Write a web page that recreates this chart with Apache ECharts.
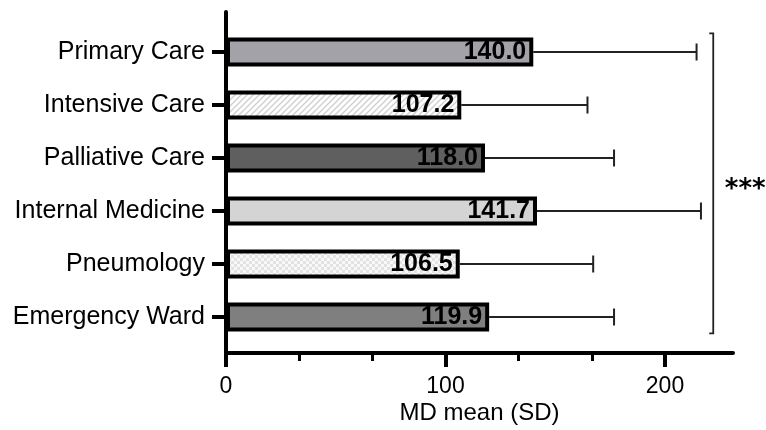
<!DOCTYPE html>
<html>
<head>
<meta charset="utf-8">
<script src="https://cdn.jsdelivr.net/npm/echarts@6/dist/echarts.min.js"></script>
<style>html,body{margin:0;padding:0;background:#fff;}#c{width:766px;height:430px;}</style>
</head>
<body>
<div id="c"></div>
<script>
const categories = ['Primary Care', 'Intensive Care', 'Palliative Care', 'Internal Medicine', 'Pneumology', 'Emergency Ward'];
const means = [140.0, 107.2, 118.0, 141.7, 106.5, 119.9];
const sds = [74.4, 57.5, 58.8, 74.7, 60.8, 56.9];
const xTickLabels = ['0', '100', '200'];
const significance = '***';

function hatchCanvas() {
  const c = document.createElement('canvas');
  c.width = 6; c.height = 6;
  const g = c.getContext('2d');
  g.fillStyle = '#ffffff'; g.fillRect(0, 0, 6, 6);
  g.strokeStyle = '#cfcfcf'; g.lineWidth = 1.4;
  g.beginPath();
  g.moveTo(-1, 7); g.lineTo(7, -1);
  g.moveTo(-4, 4); g.lineTo(4, -4);
  g.moveTo(2, 10); g.lineTo(10, 2);
  g.stroke();
  return c;
}
function checkerCanvas() {
  const c = document.createElement('canvas');
  c.width = 6; c.height = 6;
  const g = c.getContext('2d');
  g.fillStyle = '#f8f8f8'; g.fillRect(0, 0, 6, 6);
  g.fillStyle = '#e2e2e2';
  g.fillRect(0, 0, 3, 3); g.fillRect(3, 3, 3, 3);
  return c;
}
const fills = [
  '#a2a2a8',
  { image: hatchCanvas(), repeat: 'repeat' },
  '#5f5f5f',
  '#d4d4d4',
  { image: checkerCanvas(), repeat: 'repeat' },
  '#7f7f7f'
];

const FONT = "'Liberation Sans', Arial, sans-serif";
const BRACKET_X = 222;

const chart = echarts.init(document.getElementById('c'), null, { renderer: 'canvas' });
chart.setOption({
  animation: false,
  backgroundColor: '#fff',
  textStyle: { fontFamily: FONT, color: '#000' },
  grid: [
    { left: 226, right: 33, top: 25.5, height: 318 },
    { left: 226, width: 439, top: 12, height: 341 }
  ],
  xAxis: [
    {
      gridIndex: 0, type: 'value', min: 0, max: 231, position: 'bottom', offset: 9.5,
      axisLine: { show: true, lineStyle: { color: '#000', width: 4 } },
      axisTick: { show: false }, axisLabel: { show: false }, splitLine: { show: false },
      name: 'MD mean (SD)', nameLocation: 'middle', nameGap: 48,
      nameTextStyle: { fontSize: 24, color: '#000', fontFamily: FONT }
    },
    {
      gridIndex: 1, type: 'value', min: 0, max: 200, interval: 100,
      axisLine: { show: false },
      axisTick: { show: true, length: 14, lineStyle: { color: '#000', width: 4 } },
      minorTick: { show: true, splitNumber: 3, length: 8, lineStyle: { color: '#000', width: 3 } },
      splitLine: { show: false }, minorSplitLine: { show: false },
      axisLabel: {
        fontSize: 23, color: '#000', margin: 22, fontFamily: FONT,
        formatter: function (v) { const i = Math.round(v / 100); return xTickLabels[i] !== undefined ? xTickLabels[i] : ''; }
      }
    }
  ],
  yAxis: [
    {
      gridIndex: 0, type: 'category', data: categories, inverse: true,
      axisLine: { show: false },
      axisTick: { show: true, alignWithLabel: true, length: 14, lineStyle: { color: '#000', width: 4 } },
      axisLabel: { fontSize: 25, color: '#000', margin: 21, fontFamily: FONT },
      splitLine: { show: false }
    },
    {
      gridIndex: 1, type: 'value', min: 0, max: 1,
      axisLine: { show: true, lineStyle: { color: '#000', width: 4 } },
      axisTick: { show: false }, axisLabel: { show: false }, splitLine: { show: false }
    }
  ],
  series: [
    {
      type: 'custom', xAxisIndex: 0, yAxisIndex: 0, z: 1,
      data: means.map((m, i) => [m, m + sds[i], i]),
      encode: { x: [0, 1], y: 2 },
      renderItem: function (params, api) {
        const c = api.value(2);
        const p0 = api.coord([api.value(0), c]);
        const p1 = api.coord([api.value(1), c]);
        const h = 8.5;
        const st = { stroke: '#222', lineWidth: 2 };
        return {
          type: 'group', children: [
            { type: 'line', shape: { x1: p0[0], y1: p0[1], x2: p1[0], y2: p1[1] }, style: st },
            { type: 'line', shape: { x1: p1[0], y1: p1[1] - h, x2: p1[0], y2: p1[1] + h }, style: st }
          ]
        };
      }
    },
    {
      type: 'bar', xAxisIndex: 0, yAxisIndex: 0, z: 3, barWidth: 29,
      data: means.map((v, i) => ({ value: v, itemStyle: { color: fills[i] } })),
      itemStyle: { borderColor: '#000', borderWidth: 4 },
      label: {
        show: true, position: 'insideRight', distance: 7,
        formatter: p => p.value.toFixed(1),
        fontSize: 25, fontWeight: 'bold', color: '#000', fontFamily: FONT
      }
    },
    {
      type: 'custom', xAxisIndex: 0, yAxisIndex: 0, z: 4,
      data: [[BRACKET_X, 0, categories.length - 1]],
      encode: { x: 0, y: 1 },
      renderItem: function (params, api) {
        const band = api.size([0, 1])[1];
        const a = api.coord([api.value(0), api.value(1)]);
        const b = api.coord([api.value(0), api.value(2)]);
        const x = a[0];
        const top = a[1] - band * 0.35;
        const bottom = b[1] + band * 0.31;
        return {
          type: 'group', children: [
            { type: 'polyline', shape: { points: [[x - 4, top], [x, top], [x, bottom], [x - 4, bottom]] },
              style: { stroke: '#222', lineWidth: 1.8, fill: null } },
            { type: 'text', x: x + 32, y: (top + bottom) / 2 + 7,
              style: { text: significance, fontSize: 26, fontWeight: 'bold', fontFamily: "'DejaVu Sans', sans-serif",
                       fill: '#000', align: 'center', verticalAlign: 'middle' } }
          ]
        };
      }
    }
  ]
});
</script>
</body>
</html>
